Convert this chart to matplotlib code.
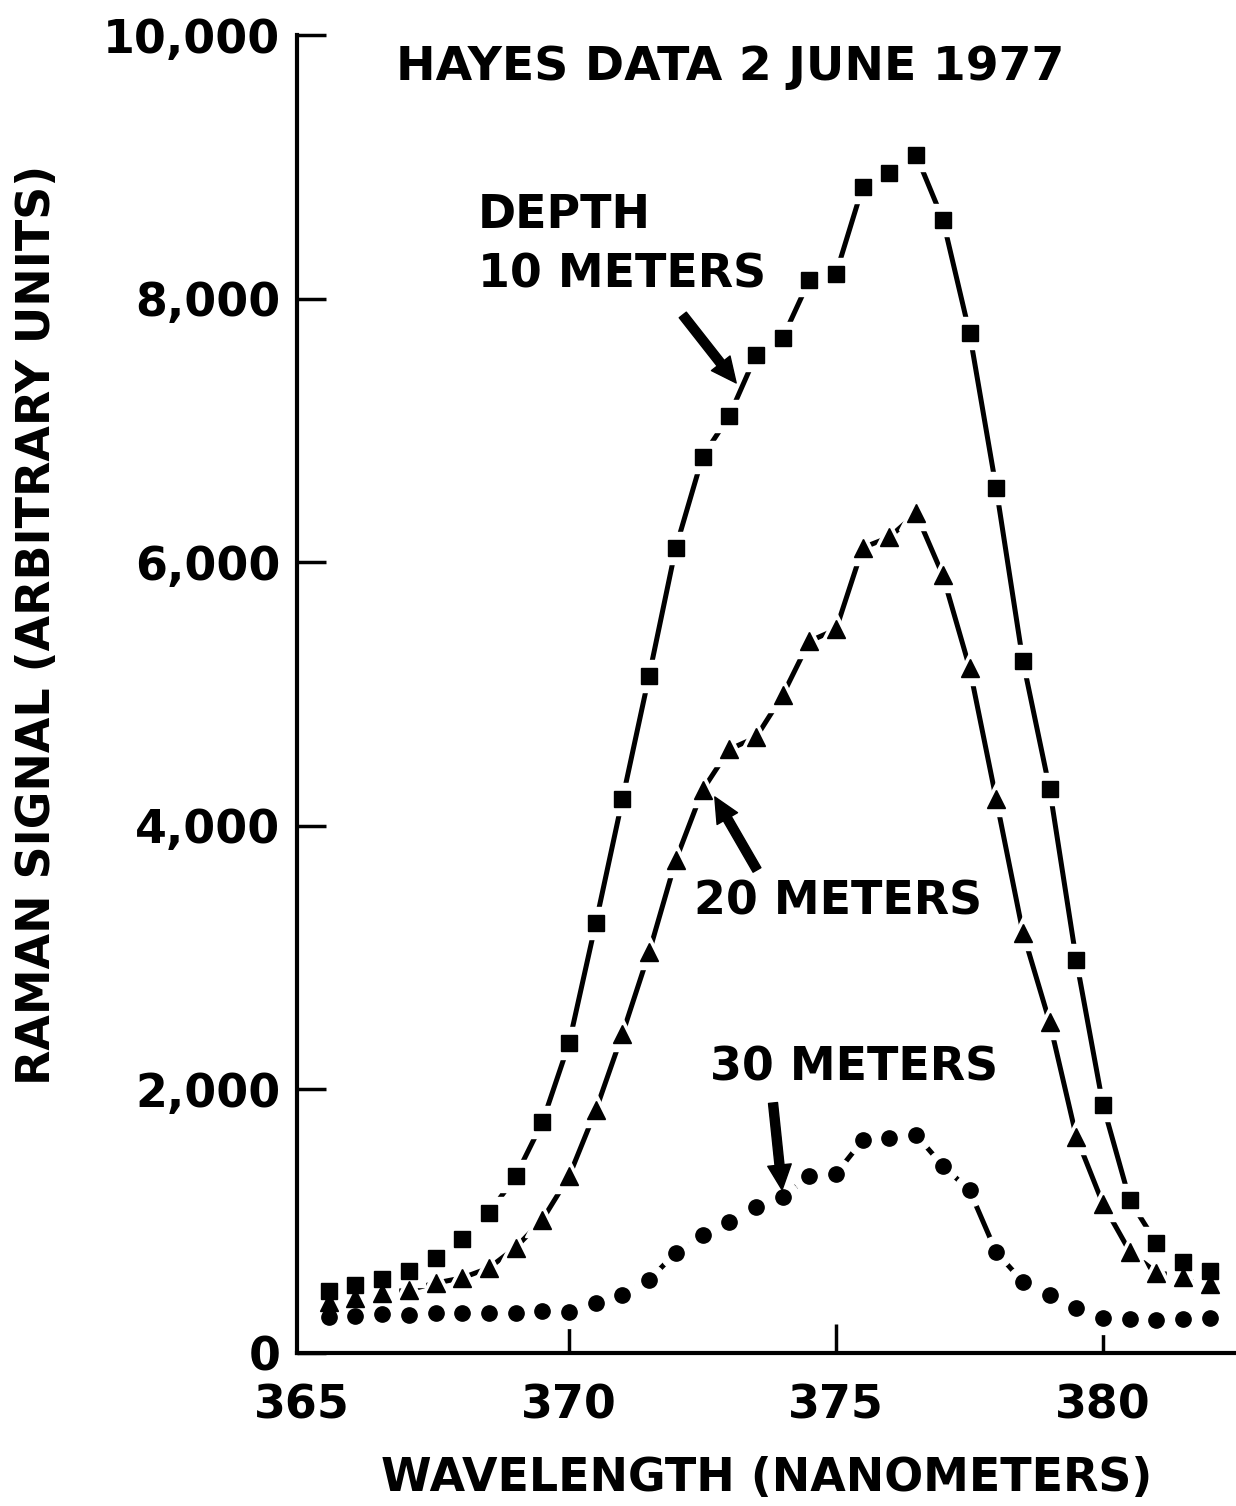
import matplotlib.pyplot as plt

wavelength = [365.5, 366.0, 366.5, 367.0, 367.5, 368.0, 368.5, 369.0, 369.5, 370.0,
              370.5, 371.0, 371.5, 372.0, 372.5, 373.0, 373.5, 374.0, 374.5, 375.0,
              375.5, 376.0, 376.5, 377.0, 377.5, 378.0, 378.5, 379.0, 379.5, 380.0,
              380.5, 381.0, 381.5, 382.0]

depth_10m = [470, 515, 560, 620, 720, 865, 1060, 1340, 1750, 2350,
             3260, 4200, 5140, 6110, 6800, 7110, 7570, 7700, 8140, 8190,
             8850, 8950, 9090, 8600, 7740, 6560, 5250, 4280, 2980, 1880,
             1160, 835, 690, 620]
depth_20m = [390, 420, 455, 480, 530, 570, 645, 800, 1010, 1340,
             1840, 2420, 3040, 3740, 4270, 4580, 4670, 4990, 5400, 5490,
             6110, 6190, 6370, 5900, 5200, 4200, 3190, 2510, 1640, 1130,
             770, 610, 580, 520]
depth_30m = [275, 280, 295, 290, 300, 305, 305, 305, 320, 310,
             380, 440, 555, 760, 895, 995, 1110, 1185, 1340, 1360,
             1615, 1630, 1655, 1420, 1235, 765, 540, 440, 340, 265,
             260, 250, 260, 265]

x_ticks = [365, 370, 375, 380]
y_ticks = [0, 2000, 4000, 6000, 8000, 10000]
y_tick_labels = ['0', '2,000', '4,000', '6,000', '8,000', '10,000']

plt.rcParams['font.family'] = ['DejaVu Sans']
plt.rcParams['font.weight'] = 'bold'
FS = 33

fig = plt.figure(figsize=(12.36, 15.06), dpi=100)
ax = fig.add_axes([297 / 1236, 1 - 1353 / 1506, 1 - 297 / 1236, (1353 - 35) / 1506])

series = [(depth_10m, 's', 11), (depth_20m, '^', 13), (depth_30m, 'o', 11)]

# lines first, then white halos to make the gaps, then the marks
for vals, m, ms in series:
    ax.plot(wavelength, vals, color='black', lw=3.6, solid_capstyle='round', zorder=2)
for vals, m, ms in series:
    ax.plot(wavelength, vals, ls='none', marker=m, ms=ms + 12, color='white', mec='white', zorder=3)
for vals, m, ms in series:
    ax.plot(wavelength, vals, ls='none', marker=m, ms=ms, color='black', mec='black', zorder=4)

ax.set_xlim(364.906, 382.49)
ax.set_ylim(0, 10000)
ax.spines['top'].set_visible(False)
ax.spines['right'].set_visible(False)
ax.spines['left'].set_linewidth(3)
ax.spines['bottom'].set_linewidth(3)
ax.set_xticks(x_ticks)
ax.set_xticklabels([str(t) for t in x_ticks], fontsize=FS, fontweight='bold')
ax.set_yticks(y_ticks)
ax.set_yticklabels(y_tick_labels, fontsize=FS, fontweight='bold')
ax.tick_params(direction='in', length=21, width=2.5, pad=12)
ax.tick_params(axis='x', pad=22)
ax.xaxis.get_major_ticks()[0].tick1line.set_visible(False)

ax.set_xlabel('WAVELENGTH (NANOMETERS)', fontsize=FS, fontweight='bold', labelpad=20)
fig.text(38 / 1236, 1 - 625 / 1506, 'RAMAN SIGNAL (ARBITRARY UNITS)', rotation=90,
         ha='center', va='center', fontsize=FS, fontweight='bold')
fig.text(730 / 1236, 1 - 68 / 1506, 'HAYES DATA 2 JUNE 1977', ha='center', va='center',
         fontsize=34, fontweight='bold')

ax.text(368.30, 8634, 'DEPTH', fontsize=FS, fontweight='bold', va='center', ha='left')
ax.text(368.30, 8179, '10 METERS', fontsize=FS, fontweight='bold', va='center', ha='left')
ax.text(375.04, 3422, '20 METERS', fontsize=FS, fontweight='bold', va='center', ha='center')
ax.text(375.34, 2162, '30 METERS', fontsize=FS, fontweight='bold', va='center', ha='center')

arrow = dict(facecolor='black', edgecolor='black', width=6.5, headwidth=17, headlength=18, shrink=0)
ax.annotate('', xy=(373.13, 7360), xytext=(372.13, 7876), arrowprops=arrow)
ax.annotate('', xy=(372.73, 4219), xytext=(373.52, 3665), arrowprops=arrow)
ax.annotate('', xy=(373.99, 1237), xytext=(373.82, 1897), arrowprops=arrow)

fig.savefig('out.png', dpi=100)
